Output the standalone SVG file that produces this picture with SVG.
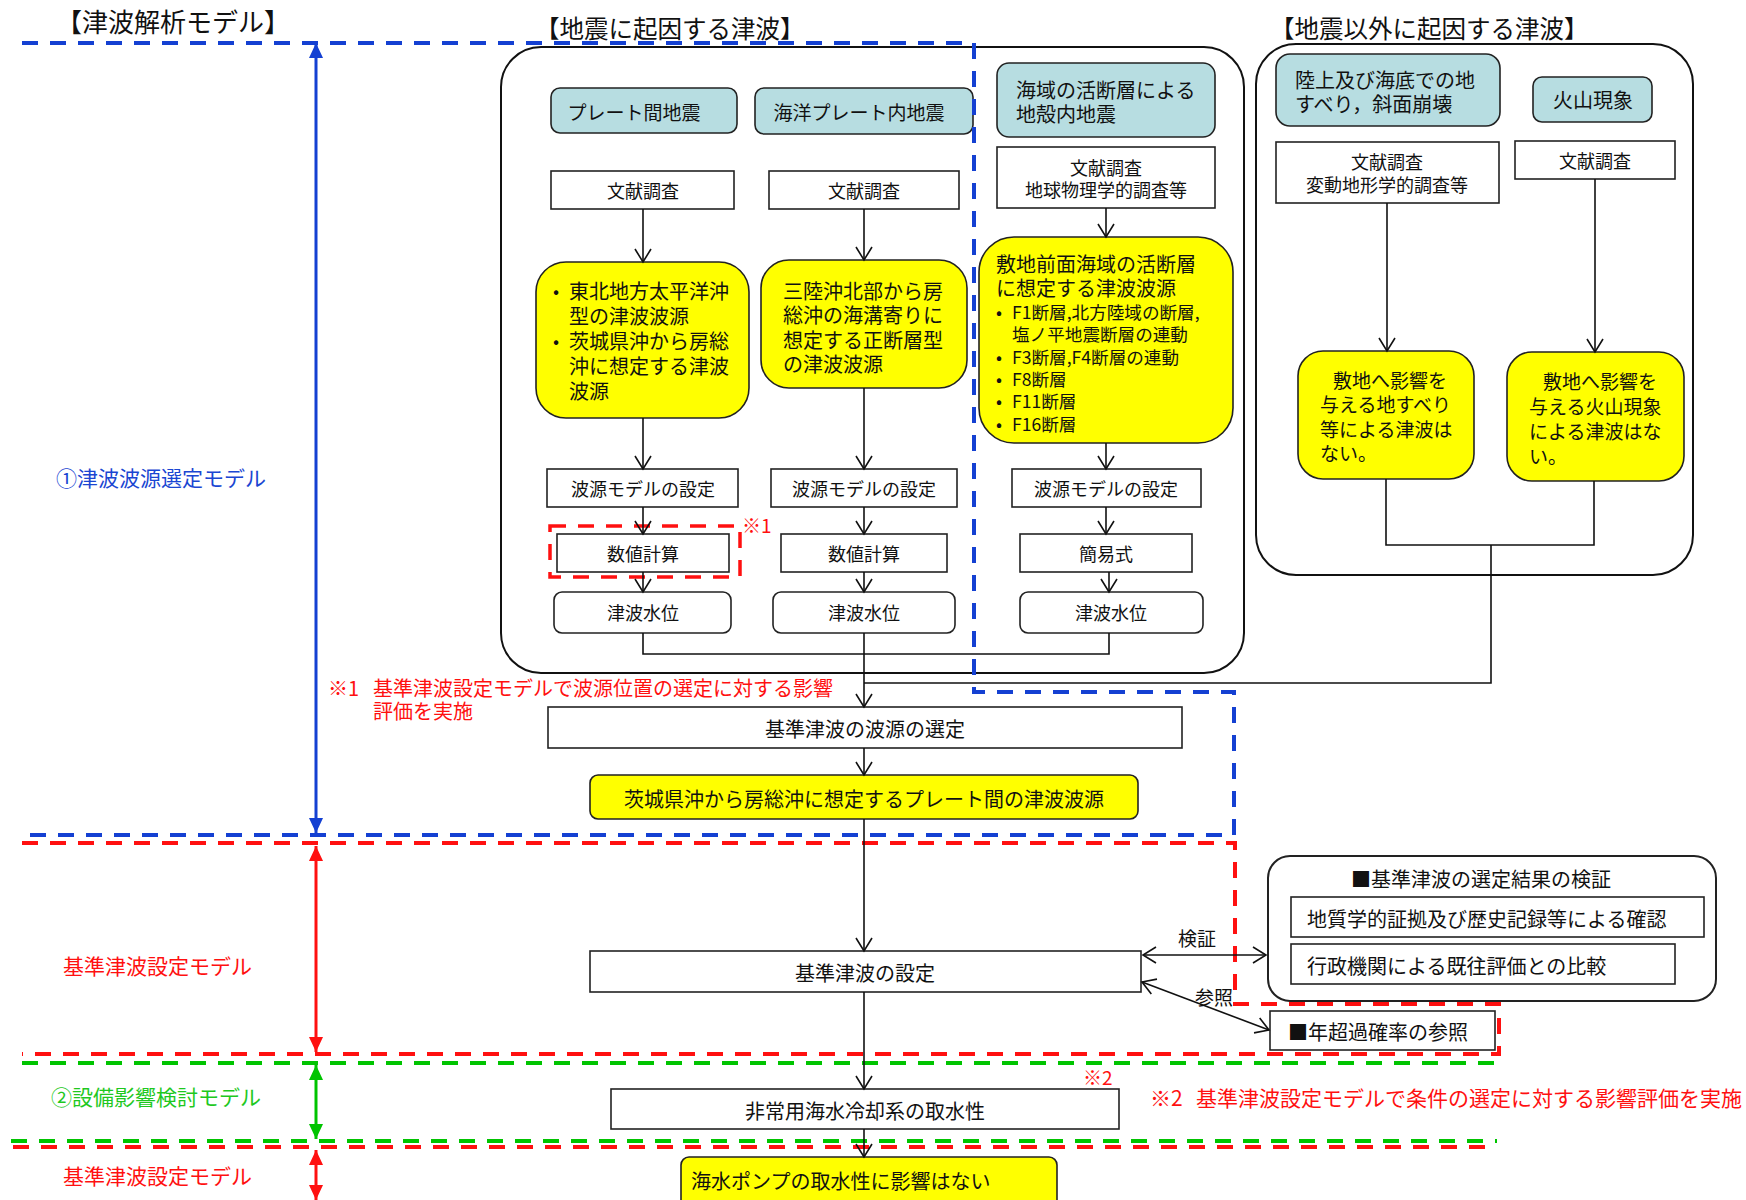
<svg xmlns="http://www.w3.org/2000/svg" width="1746" height="1200" viewBox="0 0 1746 1200">
<style>
  text { font-family: "Noto Sans CJK JP", "Noto Sans", sans-serif; fill: #111; dominant-baseline: central; }
  .c { text-anchor: middle; }
  .f17 { font-size: 17.6px; }
  .f18 { font-size: 18px; }
  .f19 { font-size: 19px; }
  .f20 { font-size: 20px; }
  .f21 { font-size: 21px; }
  .f24 { font-size: 24.5px; }
  .f26 { font-size: 26px; }
  .box { fill: #fff; stroke: #222; stroke-width: 1.6; }
  .lb { fill: #b7dde1; stroke: #222; stroke-width: 1.6; }
  .yel { fill: #ffff00; stroke: #222; stroke-width: 1.6; }
  .frame { fill: none; stroke: #111; stroke-width: 2; }
  .link { fill: none; stroke: #111; stroke-width: 1.6; }
  .arr { marker-end: url(#open); }
  .arr2 { marker-start: url(#open); marker-end: url(#open); }
  .db { fill: none; stroke: #1440d2; stroke-width: 4; stroke-dasharray: 16 12; }
  .dr { fill: none; stroke: #ff1010; stroke-width: 4; stroke-dasharray: 16 12; }
  .dg { fill: none; stroke: #00c400; stroke-width: 4; stroke-dasharray: 16 12; }
  .red { fill: #ff1010; }
  .bluet { fill: #1a46d2; }
  .greent { fill: #1ec81e; }
</style>
<defs>
  <marker id="open" markerUnits="userSpaceOnUse" markerWidth="20" markerHeight="20" viewBox="-16 -10 18 20" refX="0" refY="0" orient="auto-start-reverse">
    <path d="M-13,-8 L0,0 L-13,8" fill="none" stroke="#111" stroke-width="1.6"/>
  </marker>
  <marker id="tipB" markerUnits="userSpaceOnUse" markerWidth="18" markerHeight="18" viewBox="-16 -9 18 18" refX="0" refY="0" orient="auto-start-reverse">
    <path d="M-15,-7 L0,0 L-15,7Z" fill="#1440d2"/>
  </marker>
  <marker id="tipR" markerUnits="userSpaceOnUse" markerWidth="18" markerHeight="18" viewBox="-16 -9 18 18" refX="0" refY="0" orient="auto-start-reverse">
    <path d="M-15,-7 L0,0 L-15,7Z" fill="#ff1010"/>
  </marker>
  <marker id="tipG" markerUnits="userSpaceOnUse" markerWidth="18" markerHeight="18" viewBox="-16 -9 18 18" refX="0" refY="0" orient="auto-start-reverse">
    <path d="M-15,-7 L0,0 L-15,7Z" fill="#00c400"/>
  </marker>
</defs>

<rect width="1746" height="1200" fill="#fff"/>

<!-- headings -->
<text x="56" y="20" class="f26">【津波解析モデル】</text>
<text x="535" y="27" class="f24">【地震に起因する津波】</text>
<text x="1270" y="27" class="f24">【地震以外に起因する津波】</text>

<!-- group containers -->
<g id="group-earthquake">
  <rect class="frame" x="501" y="47" width="743" height="626" rx="40"/>
</g>
<g id="group-non-earthquake">
  <rect class="frame" x="1256" y="44" width="437" height="531" rx="40"/>
</g>

<!-- model range markers on the left -->
<g id="range-axis">
  <line x1="316" y1="43" x2="316" y2="833" stroke="#1440d2" stroke-width="3" marker-start="url(#tipB)" marker-end="url(#tipB)"/>
  <line x1="316" y1="846" x2="316" y2="1052" stroke="#ff1010" stroke-width="3" marker-start="url(#tipR)" marker-end="url(#tipR)"/>
  <line x1="316" y1="1065" x2="316" y2="1139" stroke="#00c400" stroke-width="3" marker-start="url(#tipG)" marker-end="url(#tipG)"/>
  <line x1="316" y1="1150" x2="316" y2="1200" stroke="#ff1010" stroke-width="3" marker-start="url(#tipR)" marker-end="url(#tipR)"/>
  <text x="56" y="477" class="f21 bluet">①津波波源選定モデル</text>
  <text x="63" y="965" class="f21 red">基準津波設定モデル</text>
  <text x="51" y="1096" class="f21 greent">②設備影響検討モデル</text>
  <text x="63" y="1175" class="f21 red">基準津波設定モデル</text>
</g>

<!-- earthquake-origin columns -->
<g id="n-plate">
  <rect class="lb" x="551" y="88" width="186" height="45" rx="9"/>
  <text x="634" y="111" class="c f19">プレート間地震</text>
</g>
<g id="n-oceanic">
  <rect class="lb" x="755" y="88" width="218" height="46" rx="9"/>
  <text x="859" y="111" class="c f19">海洋プレート内地震</text>
</g>
<g id="n-crustal">
  <rect class="lb" x="997" y="63" width="218" height="74" rx="12"/>
  <text x="1016" y="89" class="f20">海域の活断層による</text>
  <text x="1016" y="113" class="f20">地殻内地震</text>
</g>
<g id="n-lit1">
  <rect class="box" x="551" y="171" width="183" height="38"/>
  <text x="643" y="190" class="c f18">文献調査</text>
</g>
<g id="n-lit2">
  <rect class="box" x="769" y="171" width="190" height="38"/>
  <text x="864" y="190" class="c f18">文献調査</text>
</g>
<g id="n-lit3">
  <rect class="box" x="997" y="147" width="218" height="61"/>
  <text x="1106" y="167" class="c f18">文献調査</text>
  <text x="1106" y="189" class="c f18">地球物理学的調査等</text>
</g>
<g id="n-src1">
  <rect class="yel" x="536" y="262" width="213" height="156" rx="30"/>
  <text x="553" y="290" class="f18">•</text>
  <text x="569" y="290" class="f20">東北地方太平洋沖</text>
  <text x="569" y="315" class="f20">型の津波波源</text>
  <text x="553" y="340" class="f18">•</text>
  <text x="569" y="340" class="f20">茨城県沖から房総</text>
  <text x="569" y="365" class="f20">沖に想定する津波</text>
  <text x="569" y="390" class="f20">波源</text>
</g>
<g id="n-src2">
  <rect class="yel" x="761" y="260" width="206" height="128" rx="28"/>
  <text x="783" y="290" class="f20">三陸沖北部から房</text>
  <text x="783" y="314" class="f20">総沖の海溝寄りに</text>
  <text x="783" y="339" class="f20">想定する正断層型</text>
  <text x="783" y="363" class="f20">の津波波源</text>
</g>
<g id="n-src3">
  <rect class="yel" x="979" y="237" width="254" height="206" rx="35"/>
  <text x="996" y="263" class="f20">敷地前面海域の活断層</text>
  <text x="996" y="287" class="f20">に想定する津波波源</text>
  <text x="996" y="311" class="f17">•</text>
  <text x="1012" y="311" class="f17">F1断層,北方陸域の断層,</text>
  <text x="1012" y="333" class="f17">塩ノ平地震断層の連動</text>
  <text x="996" y="356" class="f17">•</text>
  <text x="1012" y="356" class="f17">F3断層,F4断層の連動</text>
  <text x="996" y="378" class="f17">•</text>
  <text x="1012" y="378" class="f17">F8断層</text>
  <text x="996" y="400" class="f17">•</text>
  <text x="1012" y="400" class="f17">F11断層</text>
  <text x="996" y="423" class="f17">•</text>
  <text x="1012" y="423" class="f17">F16断層</text>
</g>
<g id="n-wm1">
  <rect class="box" x="547" y="469" width="191" height="38"/>
  <text x="643" y="488" class="c f18">波源モデルの設定</text>
</g>
<g id="n-wm2">
  <rect class="box" x="771" y="469" width="186" height="38"/>
  <text x="864" y="488" class="c f18">波源モデルの設定</text>
</g>
<g id="n-wm3">
  <rect class="box" x="1012" y="469" width="189" height="38"/>
  <text x="1106" y="488" class="c f18">波源モデルの設定</text>
</g>
<g id="n-calc1">
  <rect class="box" x="557" y="534" width="172" height="38"/>
  <text x="643" y="553" class="c f18">数値計算</text>
  <rect x="550" y="526" width="190" height="51" fill="none" stroke="#ff1010" stroke-width="3.5" stroke-dasharray="16 12"/>
  <text x="742" y="524" class="f19 red">※1</text>
</g>
<g id="n-calc2">
  <rect class="box" x="781" y="534" width="166" height="38"/>
  <text x="864" y="553" class="c f18">数値計算</text>
</g>
<g id="n-simple">
  <rect class="box" x="1020" y="534" width="172" height="38"/>
  <text x="1106" y="553" class="c f18">簡易式</text>
</g>
<g id="n-level1">
  <rect class="box" x="554" y="592" width="177" height="41" rx="8"/>
  <text x="643" y="612" class="c f18">津波水位</text>
</g>
<g id="n-level2">
  <rect class="box" x="773" y="592" width="182" height="41" rx="8"/>
  <text x="864" y="612" class="c f18">津波水位</text>
</g>
<g id="n-level3">
  <rect class="box" x="1020" y="592" width="183" height="41" rx="8"/>
  <text x="1111" y="612" class="c f18">津波水位</text>
</g>

<!-- non-earthquake origin -->
<g id="n-slide">
  <rect class="lb" x="1276" y="54" width="224" height="72" rx="14"/>
  <text x="1295" y="79" class="f20">陸上及び海底での地</text>
  <text x="1295" y="103" class="f20">すべり，斜面崩壊</text>
</g>
<g id="n-volcano">
  <rect class="lb" x="1533" y="77" width="119" height="45" rx="9"/>
  <text x="1593" y="99" class="c f20">火山現象</text>
</g>
<g id="n-lit4">
  <rect class="box" x="1276" y="142" width="223" height="61"/>
  <text x="1387" y="161" class="c f18">文献調査</text>
  <text x="1387" y="184" class="c f18">変動地形学的調査等</text>
</g>
<g id="n-lit5">
  <rect class="box" x="1515" y="141" width="160" height="38"/>
  <text x="1595" y="160" class="c f18">文献調査</text>
</g>
<g id="n-no-slide">
  <rect class="yel" x="1298" y="351" width="176" height="128" rx="25"/>
  <text x="1333" y="379" class="f19">敷地へ影響を</text>
  <text x="1320" y="403" class="f19">与える地すべり</text>
  <text x="1320" y="428" class="f19">等による津波は</text>
  <text x="1320" y="452" class="f19">ない。</text>
</g>
<g id="n-no-volcano">
  <rect class="yel" x="1507" y="352" width="177" height="129" rx="25"/>
  <text x="1543" y="380" class="f19">敷地へ影響を</text>
  <text x="1529" y="405" class="f19">与える火山現象</text>
  <text x="1529" y="430" class="f19">による津波はな</text>
  <text x="1529" y="455" class="f19">い。</text>
</g>

<!-- main flow -->
<g id="n-select">
  <rect class="box" x="548" y="707" width="634" height="41"/>
  <text x="865" y="728" class="c f20">基準津波の波源の選定</text>
</g>
<g id="n-chosen">
  <rect class="yel" x="590" y="775" width="548" height="44" rx="8"/>
  <text x="864" y="798" class="c f20">茨城県沖から房総沖に想定するプレート間の津波波源</text>
</g>
<g id="n-set">
  <rect class="box" x="590" y="951" width="551" height="41"/>
  <text x="865" y="972" class="c f20">基準津波の設定</text>
</g>
<g id="n-verify">
  <rect class="box" x="1268" y="856" width="448" height="145" rx="22" style="stroke-width:2"/>
  <text x="1351" y="878" class="f20">■基準津波の選定結果の検証</text>
  <rect class="box" x="1291" y="897" width="413" height="40"/>
  <text x="1307" y="918" class="f20">地質学的証拠及び歴史記録等による確認</text>
  <rect class="box" x="1291" y="944" width="384" height="40"/>
  <text x="1307" y="965" class="f20">行政機関による既往評価との比較</text>
</g>
<g id="n-prob">
  <rect class="box" x="1270" y="1011" width="225" height="39"/>
  <text x="1288" y="1031" class="f20">■年超過確率の参照</text>
</g>
<g id="n-intake">
  <rect class="box" x="611" y="1089" width="508" height="40"/>
  <text x="865" y="1110" class="c f20">非常用海水冷却系の取水性</text>
  <text x="1083" y="1076" class="f19 red">※2</text>
</g>
<g id="n-pump">
  <rect class="yel" x="681" y="1157" width="376" height="60" rx="8"/>
  <text x="691" y="1180" class="f20">海水ポンプの取水性に影響はない</text>
</g>

<!-- model range boundaries -->
<g id="boundaries">
  <polyline class="db" points="22,43 974,43 974,692 1234,692 1234,835 22,835"/>
  <polyline class="dr" points="22,843 1235,843 1235,1004 1499,1004 1499,1054 22,1054"/>
  <line class="dg" x1="22" y1="1063" x2="1499" y2="1063"/>
  <line class="dg" x1="11" y1="1141" x2="1497" y2="1141"/>
  <line class="dr" x1="13" y1="1147" x2="1497" y2="1147"/>
</g>

<!-- connectors -->
<g id="connectors">
  <line class="link arr" x1="643" y1="209" x2="643" y2="262"/>
  <line class="link arr" x1="864" y1="209" x2="864" y2="260"/>
  <line class="link arr" x1="1106" y1="208" x2="1106" y2="237"/>
  <line class="link arr" x1="1387" y1="203" x2="1387" y2="351"/>
  <line class="link arr" x1="1595" y1="179" x2="1595" y2="352"/>
  <line class="link arr" x1="643" y1="418" x2="643" y2="469"/>
  <line class="link arr" x1="864" y1="388" x2="864" y2="469"/>
  <line class="link arr" x1="1106" y1="443" x2="1106" y2="469"/>
  <line class="link arr" x1="643" y1="507" x2="643" y2="534"/>
  <line class="link arr" x1="864" y1="507" x2="864" y2="534"/>
  <line class="link arr" x1="1106" y1="507" x2="1106" y2="534"/>
  <line class="link arr" x1="643" y1="572" x2="643" y2="592"/>
  <line class="link arr" x1="864" y1="572" x2="864" y2="592"/>
  <line class="link arr" x1="1109" y1="572" x2="1109" y2="592"/>
  <polyline class="link" points="643,633 643,654 1109,654 1109,633"/>
  <line class="link arr" x1="864" y1="633" x2="864" y2="707"/>
  <polyline class="link" points="1386,479 1386,545 1594,545 1594,481"/>
  <polyline class="link" points="1491,545 1491,683 864,683"/>
  <line class="link arr" x1="864" y1="748" x2="864" y2="775"/>
  <line class="link arr" x1="864" y1="819" x2="864" y2="951"/>
  <line class="link arr" x1="864" y1="992" x2="864" y2="1089"/>
  <line class="link arr" x1="864" y1="1129" x2="864" y2="1157"/>
  <line class="link arr2" x1="1143" y1="955" x2="1266" y2="955"/>
  <line class="link arr2" x1="1142" y1="982" x2="1269" y2="1030"/>
  <text x="1197" y="937" class="c f19">検証</text>
  <text x="1214" y="996" class="c f19">参照</text>
</g>

<!-- notes -->
<g id="notes">
  <text x="328" y="687" class="f20 red">※1</text>
  <text x="373" y="687" class="f20 red">基準津波設定モデルで波源位置の選定に対する影響</text>
  <text x="373" y="710" class="f20 red">評価を実施</text>
  <text x="1150" y="1097" class="f21 red">※2</text>
  <text x="1196" y="1097" class="f21 red">基準津波設定モデルで条件の選定に対する影響評価を実施</text>
</g>
</svg>
